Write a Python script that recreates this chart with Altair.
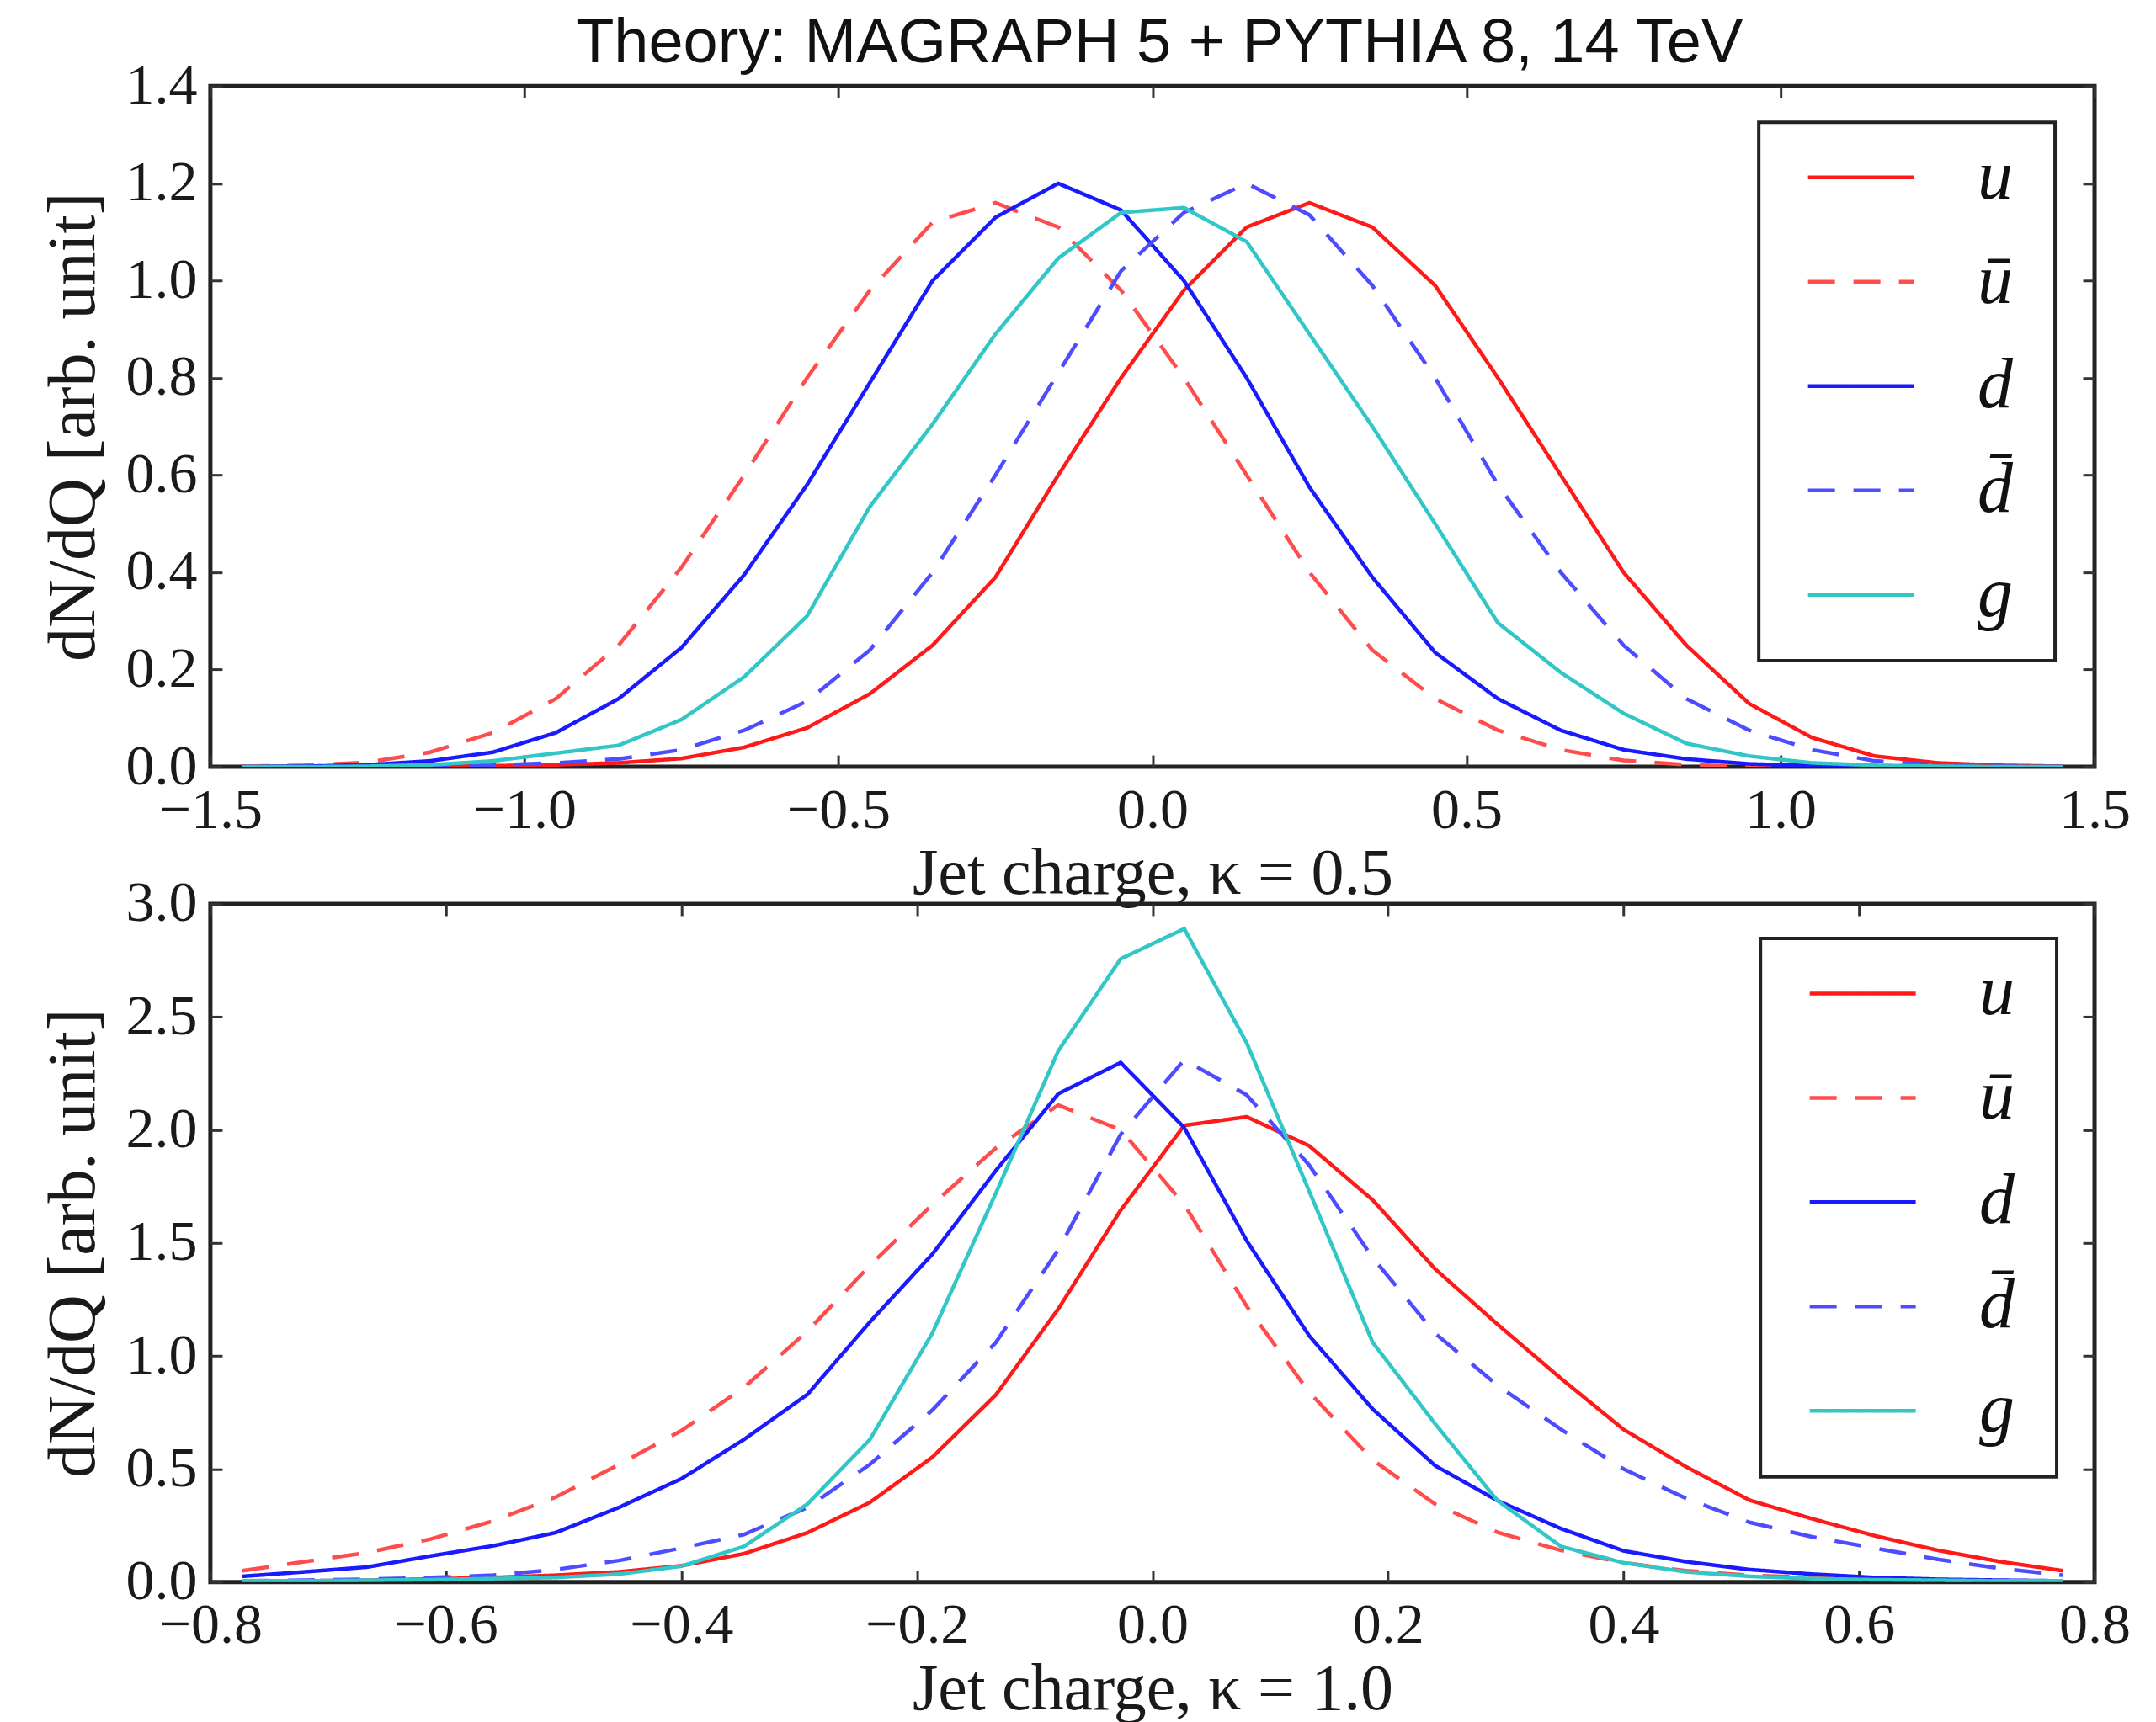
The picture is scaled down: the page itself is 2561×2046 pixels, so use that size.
import altair as alt
import pandas as pd

SERIES = ["u", "\u016b", "d", "d\u0304", "g"]
COLORS = ["#ff1a1a", "#ff4d4d", "#1a1aff", "#4d4dff", "#33c6c6"]
DASHES = [[1, 0], [32, 22], [1, 0], [32, 22], [1, 0]]

# ---- top panel: kappa = 0.5 ----
X1 = [-1.45, -1.35, -1.25, -1.15, -1.05, -0.95, -0.85, -0.75, -0.65, -0.55,
      -0.45, -0.35, -0.25, -0.15, -0.05, 0.05, 0.15, 0.25, 0.35, 0.45,
      0.55, 0.65, 0.75, 0.85, 0.95, 1.05, 1.15, 1.25, 1.35, 1.45]
U1 = [0, 0, 0, 0, 0.002, 0.004, 0.008, 0.017, 0.04, 0.08,
      0.15, 0.25, 0.39, 0.6, 0.8, 0.98, 1.11, 1.16, 1.11, 0.99,
      0.8, 0.6, 0.4, 0.25, 0.13, 0.06, 0.022, 0.008, 0.003, 0.001]
UBAR1 = [0.001, 0.003, 0.009, 0.03, 0.07, 0.14, 0.25, 0.41, 0.6, 0.8,
         0.98, 1.12, 1.16, 1.11, 0.98, 0.8, 0.6, 0.4, 0.24, 0.14,
         0.075, 0.035, 0.013, 0.004, 0.001, 0, 0, 0, 0, 0]
D1 = [0, 0.001, 0.004, 0.012, 0.03, 0.07, 0.14, 0.245, 0.395, 0.58,
      0.79, 1.0, 1.13, 1.2, 1.145, 1.0, 0.8, 0.575, 0.39, 0.235,
      0.14, 0.075, 0.035, 0.016, 0.006, 0.002, 0.001, 0, 0, 0]
DBAR1 = [0, 0, 0, 0.001, 0.003, 0.008, 0.016, 0.035, 0.075, 0.135,
         0.24, 0.4, 0.6, 0.81, 1.02, 1.14, 1.2, 1.135, 0.99, 0.8,
         0.58, 0.4, 0.25, 0.14, 0.075, 0.035, 0.012, 0.004, 0.001, 0]
G1 = [0, 0, 0.001, 0.004, 0.012, 0.028, 0.044, 0.097, 0.185, 0.31,
      0.535, 0.705, 0.89, 1.046, 1.14, 1.15, 1.08, 0.89, 0.7, 0.5,
      0.296, 0.194, 0.11, 0.048, 0.022, 0.008, 0.003, 0.001, 0, 0]

# ---- bottom panel: kappa = 1.0 ----
X2 = [-0.773, -0.720, -0.667, -0.613, -0.560, -0.507, -0.453, -0.400, -0.347, -0.293,
      -0.240, -0.187, -0.133, -0.080, -0.027, 0.027, 0.080, 0.133, 0.187, 0.240,
      0.293, 0.347, 0.400, 0.453, 0.507, 0.560, 0.613, 0.667, 0.720, 0.773]
U2 = [0.003, 0.005, 0.008, 0.013, 0.02, 0.03, 0.045, 0.072, 0.125, 0.218,
      0.352, 0.552, 0.828, 1.208, 1.645, 2.02, 2.058, 1.93, 1.69, 1.385,
      1.14, 0.9, 0.675, 0.51, 0.362, 0.28, 0.205, 0.14, 0.09, 0.05]
UBAR2 = [0.05, 0.09, 0.13, 0.19, 0.27, 0.375, 0.52, 0.67, 0.86, 1.11,
         1.40, 1.67, 1.92, 2.11, 2.0, 1.67, 1.22, 0.84, 0.54, 0.345,
         0.22, 0.14, 0.085, 0.05, 0.03, 0.02, 0.012, 0.008, 0.005, 0.003]
D2 = [0.025, 0.045, 0.066, 0.115, 0.16, 0.218, 0.33, 0.457, 0.63, 0.83,
      1.15, 1.45, 1.82, 2.16, 2.298, 2.01, 1.51, 1.09, 0.765, 0.515,
      0.36, 0.236, 0.138, 0.09, 0.055, 0.035, 0.02, 0.012, 0.008, 0.005]
DBAR2 = [0.005, 0.008, 0.012, 0.02, 0.03, 0.055, 0.095, 0.15, 0.21, 0.33,
         0.52, 0.76, 1.06, 1.47, 1.98, 2.31, 2.155, 1.845, 1.435, 1.10,
         0.87, 0.675, 0.5, 0.37, 0.264, 0.2, 0.15, 0.1, 0.06, 0.03]
G2 = [0.005, 0.005, 0.008, 0.01, 0.015, 0.02, 0.035, 0.07, 0.157, 0.345,
      0.63, 1.10, 1.72, 2.35, 2.757, 2.89, 2.385, 1.73, 1.06, 0.70,
      0.36, 0.157, 0.085, 0.045, 0.025, 0.015, 0.01, 0.008, 0.005, 0.005]

XT1 = [-1.5, -1.0, -0.5, 0.0, 0.5, 1.0, 1.5]
YT1 = [0.0, 0.2, 0.4, 0.6, 0.8, 1.0, 1.2, 1.4]
XT2 = [-0.8, -0.6, -0.4, -0.2, 0.0, 0.2, 0.4, 0.6, 0.8]
YT2 = [0.0, 0.5, 1.0, 1.5, 2.0, 2.5, 3.0]

TITLE = "Theory: MAGRAPH 5 + PYTHIA 8, 14 TeV"
XTITLE1 = "Jet charge, \u03ba = 0.5"
XTITLE2 = "Jet charge, \u03ba = 1.0"
YTITLE = "dN/dQ [arb. unit]"


def long_df(xs, ys_list):
    rows = []
    for name, ys in zip(SERIES, ys_list):
        for x, y in zip(xs, ys):
            rows.append({"x": x, "y": y, "series": name})
    return pd.DataFrame(rows)


SERIF = "Liberation Serif"
TICK = 14


def panel(df, xdom, xt, ydom, yt, xtitle, w, h, lx, ly):
    xs = alt.Scale(domain=xdom, nice=False, zero=False)
    ys = alt.Scale(domain=ydom, nice=False, zero=False)
    leg = alt.Legend(orient="none", legendX=lx, legendY=ly, title=" ",
                     titleOrient="bottom", titleFontSize=20, titlePadding=16,
                     labelExpr="datum.label + '\u2002\u200a\u200b'")
    main = alt.Chart(df).mark_line(strokeWidth=4.5, clip=True).encode(
        x=alt.X("x:Q", scale=xs,
                axis=alt.Axis(orient="bottom", values=xt, format=".1f", title=xtitle,
                              offset=-TICK, tickSize=TICK, labelPadding=18,
                              titlePadding=3, domain=False, grid=False,
                              labelFlush=False, labelOverlap=False)),
        y=alt.Y("y:Q", scale=ys,
                axis=alt.Axis(orient="left", values=yt, format=".1f", title=YTITLE,
                              offset=-TICK, tickSize=TICK, labelPadding=16,
                              titlePadding=20, titleFontSize=80, domain=False, grid=False,
                              labelFlush=False, labelOverlap=False)),
        color=alt.Color("series:N", scale=alt.Scale(domain=SERIES, range=COLORS), legend=leg),
        strokeDash=alt.StrokeDash("series:N", scale=alt.Scale(domain=SERIES, range=DASHES), legend=leg),
    )
    ticks = alt.Chart(df).mark_line(opacity=0).encode(
        x=alt.X("x:Q", scale=xs,
                axis=alt.Axis(orient="top", values=xt, labels=False, title=None,
                              offset=-TICK, tickSize=TICK, domain=False, grid=False)),
        y=alt.Y("y:Q", scale=ys,
                axis=alt.Axis(orient="right", values=yt, labels=False, title=None,
                              offset=-TICK, tickSize=TICK, domain=False, grid=False)),
    )
    return alt.layer(main, ticks).resolve_scale(x="independent", y="independent").properties(
        width=w, height=h)


top = panel(long_df(X1, [U1, UBAR1, D1, DBAR1, G1]), [-1.5, 1.5], XT1, [0, 1.4], YT1,
            XTITLE1, 2239, 809, 1840, 43)
bottom = panel(long_df(X2, [U2, UBAR2, D2, DBAR2, G2]), [-0.8, 0.8], XT2, [0, 3.0], YT2,
               XTITLE2, 2239, 806, 1842, 41)

chart = alt.vconcat(top, bottom, spacing=163, bounds="flush").resolve_legend(
    color="independent", strokeDash="independent"
).resolve_scale(color="independent", strokeDash="independent").properties(
    title=alt.TitleParams(TITLE, font="Liberation Sans", fontSize=74, fontWeight="normal",
                          color="#111", anchor="middle", offset=-24, dx=88),
    padding={"left": 37, "top": 6, "right": 20, "bottom": 0},
).configure_view(
    stroke="#222", strokeWidth=5
).configure_axis(
    labelFont=SERIF, labelFontSize=68, labelColor="#1a1a1a",
    titleFont=SERIF, titleFontSize=78, titleFontWeight="normal", titleColor="#1a1a1a",
    tickColor="#333", tickWidth=3,
).configure_legend(
    symbolType="stroke", symbolSize=15876, symbolStrokeWidth=4.5,
    labelFont=SERIF, labelFontSize=84, labelFontStyle="italic", labelColor="#111",
    labelOffset=73, symbolOffset=56, padding=0, rowPadding=16,
    strokeColor="#222", strokeWidth=4, fillColor="white",
)

chart.save("out.html", embed_options={"renderer": "svg", "actions": False})
